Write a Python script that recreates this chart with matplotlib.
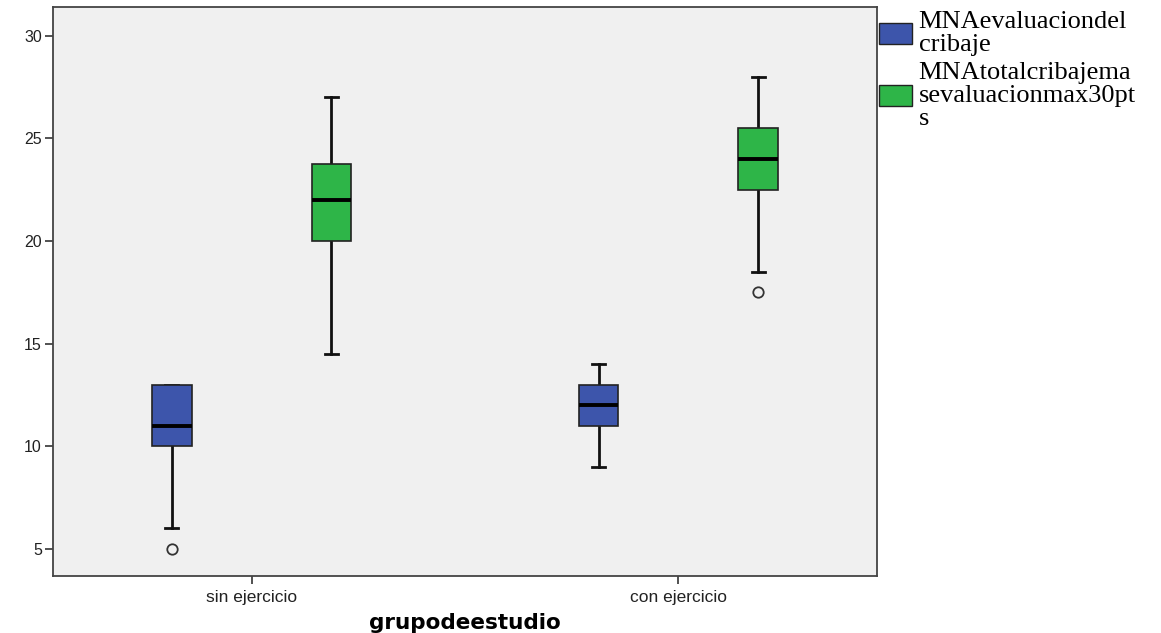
import matplotlib
matplotlib.use("Agg")
import matplotlib.pyplot as plt
from matplotlib.patches import Patch

groups = ["sin ejercicio", "con ejercicio"]
series = ["MNAevaluaciondel\ncribaje", "MNAtotalcribajema\nsevaluacionmax30pt\ns"]
colors = ["#3d55ab", "#2eb548"]

# stats per series, per group: [whislo, q1, med, q3, whishi]
blue_stats = [[6, 10, 11, 13, 13], [9, 11, 12, 13, 14]]
green_stats = [[14.5, 20, 22, 23.75, 27], [18.5, 22.5, 24, 25.5, 28]]
blue_outliers = [[5], []]
green_outliers = [[], [17.5]]

yticks = [5, 10, 15, 20, 25, 30]

fig = plt.figure(figsize=(11.61, 6.33), dpi=100)
ax = fig.add_axes([53/1161, 1-576/633, (877-53)/1161, (576-7)/633])
ax.set_facecolor("#f0f0f0")

offset = 0.187
width = 0.093
for si, (stats, outs) in enumerate([(blue_stats, blue_outliers), (green_stats, green_outliers)]):
    bx = []
    pos = []
    for gi in range(len(groups)):
        lo, q1, med, q3, hi = stats[gi]
        bx.append(dict(whislo=lo, q1=q1, med=med, q3=q3, whishi=hi, fliers=outs[gi]))
        pos.append(gi + (-offset if si == 0 else offset))
    art = ax.bxp(bx, positions=pos, widths=width, patch_artist=True, showfliers=True,
                 boxprops=dict(facecolor=colors[si], edgecolor="#222222", linewidth=1.2),
                 medianprops=dict(color="black", linewidth=2.8),
                 whiskerprops=dict(color="#111111", linewidth=2),
                 capprops=dict(color="#111111", linewidth=2),
                 capwidths=0.03,
                 flierprops=dict(marker="o", markerfacecolor="none", markeredgecolor="#333333",
                                 markersize=7.5, markeredgewidth=1.3))
    for b in art["boxes"]:
        b.set_zorder(3)
    for m in art["medians"]:
        m.set_zorder(4)
    for c in art["caps"] + art["whiskers"]:
        c.set_zorder(2)

ax.set_xlim(-0.465, 1.465)
ax.set_ylim(3.68, 31.4)
ax.set_xticks(range(len(groups)))
ax.set_xticklabels(groups, fontsize=12.5, family="Liberation Sans", color="#222222")
ax.set_yticks(yticks)
ax.set_yticklabels([str(v) for v in yticks], fontsize=11.5, family="Liberation Sans", color="#222222")
ax.tick_params(axis="both", direction="out", length=6, width=1.2, color="#333333")
ax.tick_params(axis="x", pad=4)
ax.tick_params(axis="y", pad=2)
for s in ax.spines.values():
    s.set_color("#444444")
    s.set_linewidth(1.3)
ax.set_xlabel("grupodeestudio", fontsize=15.5, fontweight="bold", family="DejaVu Sans", labelpad=6)

handles = [Patch(facecolor=colors[i], edgecolor="#222222", label=series[i]) for i in range(2)]
leg = fig.legend(handles=handles, loc="upper left", bbox_to_anchor=(879/1161, 1-11/633),
                 frameon=False, prop=dict(family="Liberation Serif", size=19),
                 handlelength=1.25, handleheight=0.85, handletextpad=0.25, labelspacing=0.2,
                 borderaxespad=0, borderpad=0)
for t in leg.get_texts():
    t.set_linespacing(1.08)

fig.savefig("out.png", dpi=100, facecolor="white")
